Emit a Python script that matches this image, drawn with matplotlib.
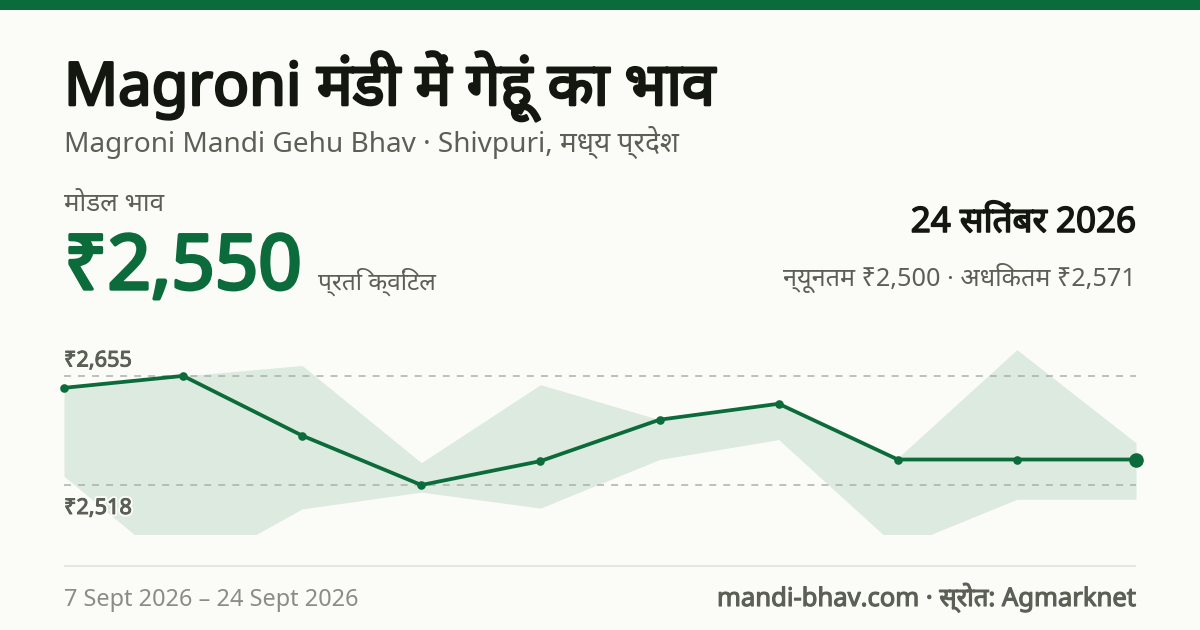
"""Magroni mandi wheat price card, redrawn with matplotlib."""

import numpy as np
import matplotlib
matplotlib.use("Agg")
import matplotlib.pyplot as plt
import matplotlib.patheffects as pe
from matplotlib.patches import Rectangle

# Values, one per market day
modal_price = [2640, 2655, 2580, 2518, 2548, 2600, 2620, 2550, 2550, 2550]
max_price = [2640, 2655, 2668, 2546, 2644, 2600, 2620, 2552, 2688, 2571]
min_price = [2529, 2405, 2488, 2509, 2489, 2550, 2575, 2439, 2500, 2500]
high_ref = 2655
low_ref = 2518

title_text = "Magroni मंडी में गेहूं का भाव"
subtitle_text = "Magroni Mandi Gehu Bhav · Shivpuri, मध्य प्रदेश"
modal_label = "मोडल भाव"
price_text = "₹2,550"
unit_text = "प्रति क्विंटल"
date_text = "24 सितंबर 2026"
range_text = "न्यूनतम ₹2,500 · अधिकतम ₹2,571"
period_text = "7 Sept 2026 – 24 Sept 2026"
source_text = "mandi-bhav.com · स्रोत: Agmarknet"

GREEN = "#0b6b3a"
BG = "#fbfcf8"
INK = "#14170f"
MUTED = "#5c5f55"
FAINT = "#8a8c85"

W, H = 1200, 630
plt.rcParams["font.family"] = ["Noto Sans", "DejaVu Sans"]
plt.rcParams["lines.scale_dashes"] = False


def put_text(x, y, s, px, color, bold=False, ha="left", halo=False):
    """Place text by its baseline, in image pixels."""
    t = fig.text(x / W, 1 - y / H, s, fontsize=px * 0.72, color=color,
                 ha=ha, va="baseline", zorder=5)
    # The installed Noto Sans has one weight, so bold is thickened with a stroke
    effects = []
    if halo:
        effects.append(pe.withStroke(linewidth=3.5, foreground=BG))
    if bold:
        effects.append(pe.withStroke(linewidth=px * 0.032, foreground=color))
    if effects:
        t.set_path_effects(effects)
    return t


fig = plt.figure(figsize=(12, 6.3), dpi=100, facecolor=BG)
fig.add_artist(Rectangle((0, 1 - 10 / H), 1, 10 / H, transform=fig.transFigure,
                         color=GREEN, lw=0))
fig.add_artist(Rectangle((64 / W, 1 - 567 / H), 1072 / W, 2 / H,
                         transform=fig.transFigure, color="#e4e6e0", lw=0))

put_text(64, 105, title_text, 59.7, INK, bold=True)
put_text(64, 152, subtitle_text, 28, MUTED)
put_text(64, 211, modal_label, 26, MUTED)
put_text(64, 289, price_text, 76, GREEN, bold=True)
put_text(318, 290, unit_text, 24.5, MUTED)
put_text(1136, 232, date_text, 35, INK, bold=True, ha="right")
put_text(1136, 286, range_text, 25.2, MUTED, ha="right")
put_text(64, 606, period_text, 23.5, FAINT)
put_text(1136, 606, source_text, 25.6, MUTED, bold=True, ha="right")

# Plot area: the band is cut off by the bottom of the axes
high_px, low_px = 375.9, 485.0
px_per_unit = (low_px - high_px) / (high_ref - low_ref)
top_px, bottom_px = 340, 533.7
ax = fig.add_axes([64 / W, 1 - bottom_px / H, 1072 / W, (bottom_px - top_px) / H])
ax.set_xlim(0, len(modal_price) - 1)
ax.set_ylim(high_ref - (bottom_px - high_px) / px_per_unit,
            high_ref + (high_px - top_px) / px_per_unit)
ax.axis("off")

x = np.arange(len(modal_price))
ax.fill_between(x, min_price, max_price, color=GREEN, alpha=0.12, lw=0)
for ref in (high_ref, low_ref):
    ax.axhline(ref, color="#a9aba4", lw=1.1, ls=(0, (5, 5.1)), alpha=0.95)
ax.plot(x, modal_price, color=GREEN, lw=2.7, marker="o", ms=6.2, mew=0, clip_on=False)
ax.plot(x[-1], modal_price[-1], color=GREEN, marker="o", ms=10.5, mew=0, clip_on=False)

put_text(64, 366.5, f"₹{high_ref:,}", 21.7, MUTED, bold=True, halo=True)
put_text(64, 514, f"₹{low_ref:,}", 21.7, MUTED, bold=True, halo=True)

fig.savefig("out.png", dpi=100, facecolor=BG)
